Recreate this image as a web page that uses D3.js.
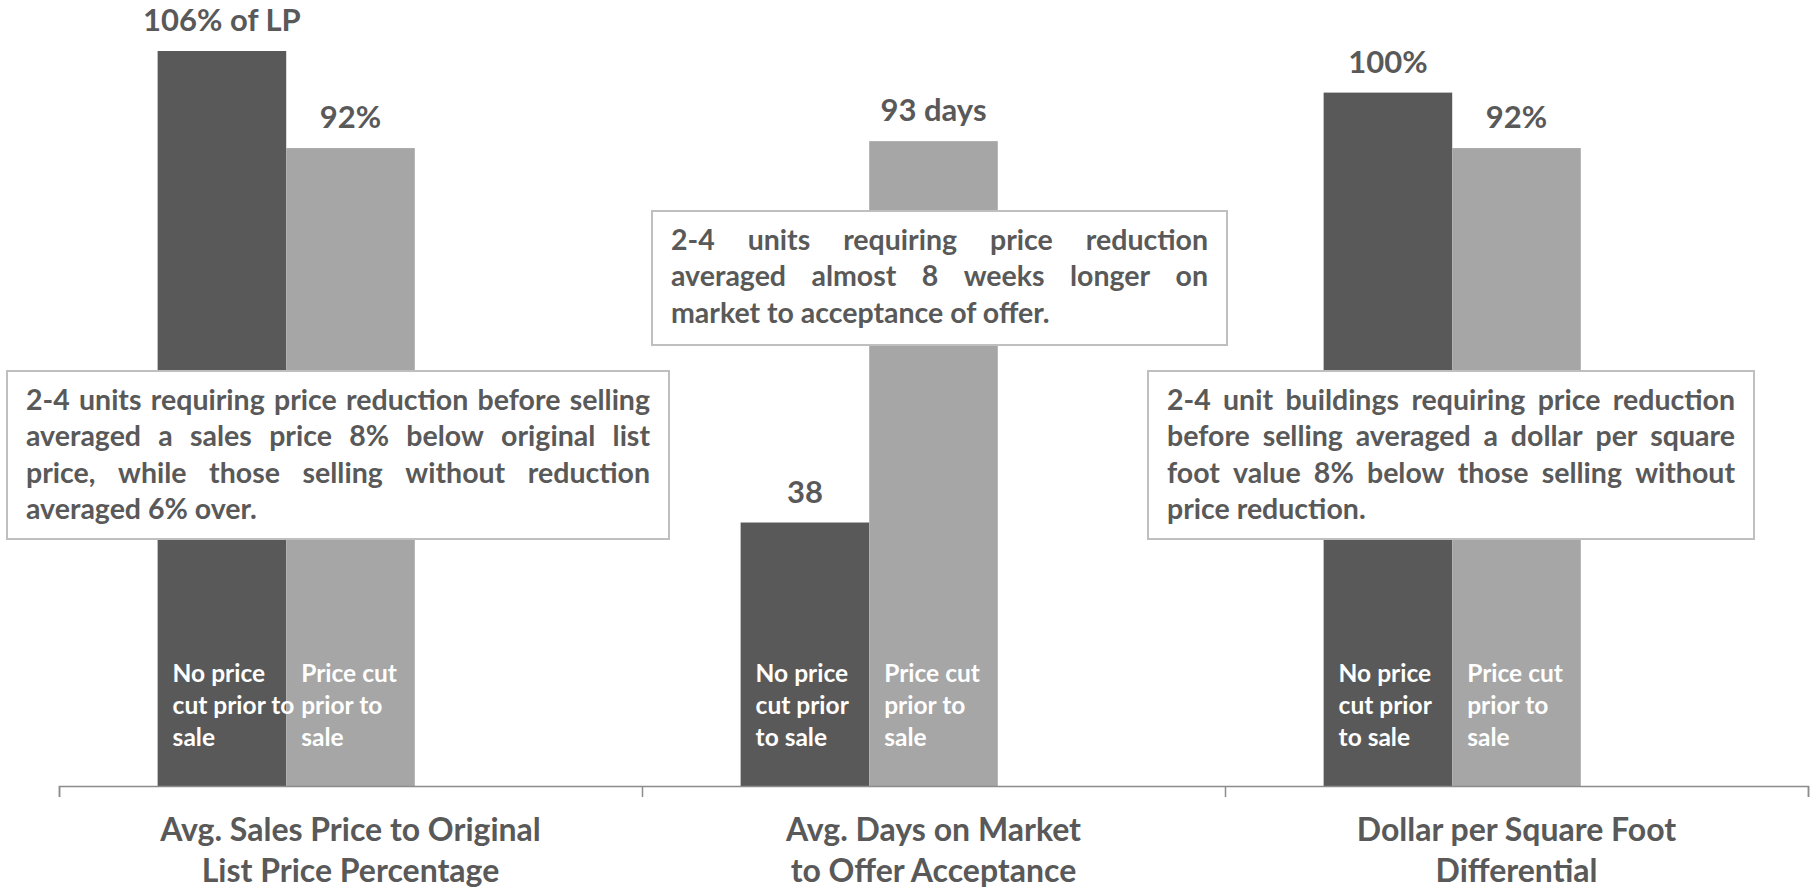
<!DOCTYPE html>
<html lang="en">
	<head>
		<meta charset="utf-8">
		<title>2-4 units: price cut vs no price cut</title>
		<script type="text/javascript" src="https://d3js.org/d3.v7.min.js"></script>
		<style type="text/css">
			body { margin: 0; background: #fff; }
			text { font-family: Lato, "Open Sans", sans-serif; font-weight: bold; }
		</style>
	</head>
	<body>
		<script type="text/javascript">

			//Width and height
			var w = 1817;
			var h = 891;

			//Data
			var categories = ["Sales Price to List", "Days on Market", "Dollar per SqFt"];
			var categoryLines = [
				["Avg. Sales Price to Original", "List Price Percentage"],
				["Avg. Days on Market", "to Offer Acceptance"],
				["Dollar per Square Foot", "Differential"]
			];
			var noCut = [106, 38, 100];
			var withCut = [92, 93, 92];
			var noCutLabels = ["106% of LP", "38", "100%"];
			var withCutLabels = ["92%", "93 days", "92%"];
			var noCutName = [["No price", "cut prior to", "sale"], ["No price", "cut prior", "to sale"], ["No price", "cut prior", "to sale"]];
			var withCutName = [["Price cut", "prior to", "sale"], ["Price cut", "prior to", "sale"], ["Price cut", "prior to", "sale"]];
			var notes = [
				["2-4 units requiring price reduction before selling",
				 "averaged a sales price 8% below original list",
				 "price, while those selling without reduction",
				 "averaged 6% over."],
				["2-4 units requiring price reduction",
				 "averaged almost 8 weeks longer on",
				 "market to acceptance of offer."],
				["2-4 unit buildings requiring price reduction",
				 "before selling averaged a dollar per square",
				 "foot value 8% below those selling without",
				 "price reduction."]
			];

			//Note box placement (layout only)
			var noteBoxes = [
				{x: 7, y: 371, w: 662, h: 168},
				{x: 652, y: 211, w: 575, h: 134},
				{x: 1148, y: 371, w: 606, h: 168}
			];

			var textColor = "#595959";
			var colors = ["#595959", "#a6a6a6"];

			//Create SVG element
			var svg = d3.select("body")
						.append("svg")
						.attr("width", w)
						.attr("height", h);

			var x0 = d3.scaleBand()
				.domain(categories)
				.range([59, 1808]);

			// Excel left a third (empty) series slot in each group
			var x1 = d3.scaleBand()
				.domain(["noCut", "withCut", "empty"])
				.range([0, x0.bandwidth()])
				.paddingInner(0)
				.paddingOuter(0.767);

			var y = d3.scaleLinear()
				.domain([0, 106])
				.range([786, 51]);

			var rows = categories.map(function(c, i) {
				return [
					{cat: c, i: i, key: "noCut", v: noCut[i], label: noCutLabels[i], name: noCutName[i], color: colors[0]},
					{cat: c, i: i, key: "withCut", v: withCut[i], label: withCutLabels[i], name: withCutName[i], color: colors[1]}
				];
			});
			var bars = d3.merge(rows);

			svg.selectAll("rect.bar")
			   .data(bars)
			   .enter()
			   .append("rect")
			   .attr("class", "bar")
			   .attr("x", function(d) { return x0(d.cat) + x1(d.key); })
			   .attr("y", function(d) { return y(d.v); })
			   .attr("width", x1.bandwidth())
			   .attr("height", function(d) { return y(0) - y(d.v); })
			   .attr("fill", function(d) { return d.color; });

			//Value labels
			svg.selectAll("text.value")
			   .data(bars)
			   .enter()
			   .append("text")
			   .attr("class", "value")
			   .text(function(d) { return d.label; })
			   .attr("text-anchor", "middle")
			   .attr("x", function(d) { return x0(d.cat) + x1(d.key) + x1.bandwidth() / 2; })
			   .attr("y", function(d) { return y(d.v) - 20; })
			   .attr("font-size", "31px")
			   .attr("fill", textColor);

			//Series names inside bar bases
			var names = svg.selectAll("text.name")
			   .data(bars)
			   .enter()
			   .append("text")
			   .attr("class", "name")
			   .attr("font-size", "24.5px")
			   .attr("fill", "white");

			names.selectAll("tspan")
			   .data(function(d) {
			   		return d.name.map(function(t) { return {t: t, d: d}; });
			   })
			   .enter()
			   .append("tspan")
			   .attr("x", function(e) { return x0(e.d.cat) + x1(e.d.key) + 15; })
			   .attr("y", function(e, j) { return 682 + j * 32; })
			   .text(function(e) { return e.t; });

			//Axis with ticks on the category boundaries
			var xb = d3.scaleLinear()
				.domain([0, categories.length])
				.range(x0.range());

			var axis = svg.append("g")
				.attr("transform", "translate(0," + y(0) + ")")
				.call(d3.axisBottom(xb)
					.tickValues(d3.range(categories.length + 1))
					.tickSize(11)
					.tickSizeOuter(11)
					.tickFormat(""));
			axis.selectAll("path, line")
				.attr("stroke", "#8c8c8c")
				.attr("stroke-width", 1.5);

			//Category labels
			var cats = svg.selectAll("text.cat")
			   .data(categories)
			   .enter()
			   .append("text")
			   .attr("class", "cat")
			   .attr("text-anchor", "middle")
			   .attr("font-size", "32px")
			   .attr("fill", textColor);

			cats.selectAll("tspan")
			   .data(function(c, i) {
			   		return categoryLines[i].map(function(t) { return {t: t, c: c}; });
			   })
			   .enter()
			   .append("tspan")
			   .attr("x", function(e) { return x0(e.c) + x0.bandwidth() / 2; })
			   .attr("y", function(e, j) { return 841 + j * 41; })
			   .text(function(e) { return e.t; });

			//Note boxes with justified text
			var pad = 19;
			var lineH = 36.4;
			var noteSize = 28.5;

			var measure = svg.append("text")
				.attr("font-size", noteSize + "px")
				.attr("visibility", "hidden");
			function textWidth(s) {
				measure.text(s);
				return measure.node().getComputedTextLength();
			}

			notes.forEach(function(lines, n) {
				var b = noteBoxes[n];
				var g = svg.append("g");
				g.append("rect")
				 .attr("x", b.x)
				 .attr("y", b.y)
				 .attr("width", b.w)
				 .attr("height", b.h)
				 .attr("fill", "white")
				 .attr("stroke", "#bfbfbf")
				 .attr("stroke-width", 2);

				var inner = b.w - 2 * pad;
				lines.forEach(function(line, j) {
					var by = b.y + 39 + j * lineH;
					var words = line.split(" ");
					if (j === lines.length - 1 || words.length < 2) {
						g.append("text")
						 .attr("x", b.x + pad)
						 .attr("y", by)
						 .attr("font-size", noteSize + "px")
						 .attr("fill", textColor)
						 .text(line);
						return;
					}
					var widths = words.map(textWidth);
					var gap = (inner - d3.sum(widths)) / (words.length - 1);
					var cx = b.x + pad;
					words.forEach(function(wd, k) {
						g.append("text")
						 .attr("x", cx)
						 .attr("y", by)
						 .attr("font-size", noteSize + "px")
						 .attr("fill", textColor)
						 .text(wd);
						cx += widths[k] + gap;
					});
				});
			});
			measure.remove();

		</script>
	</body>
</html>
